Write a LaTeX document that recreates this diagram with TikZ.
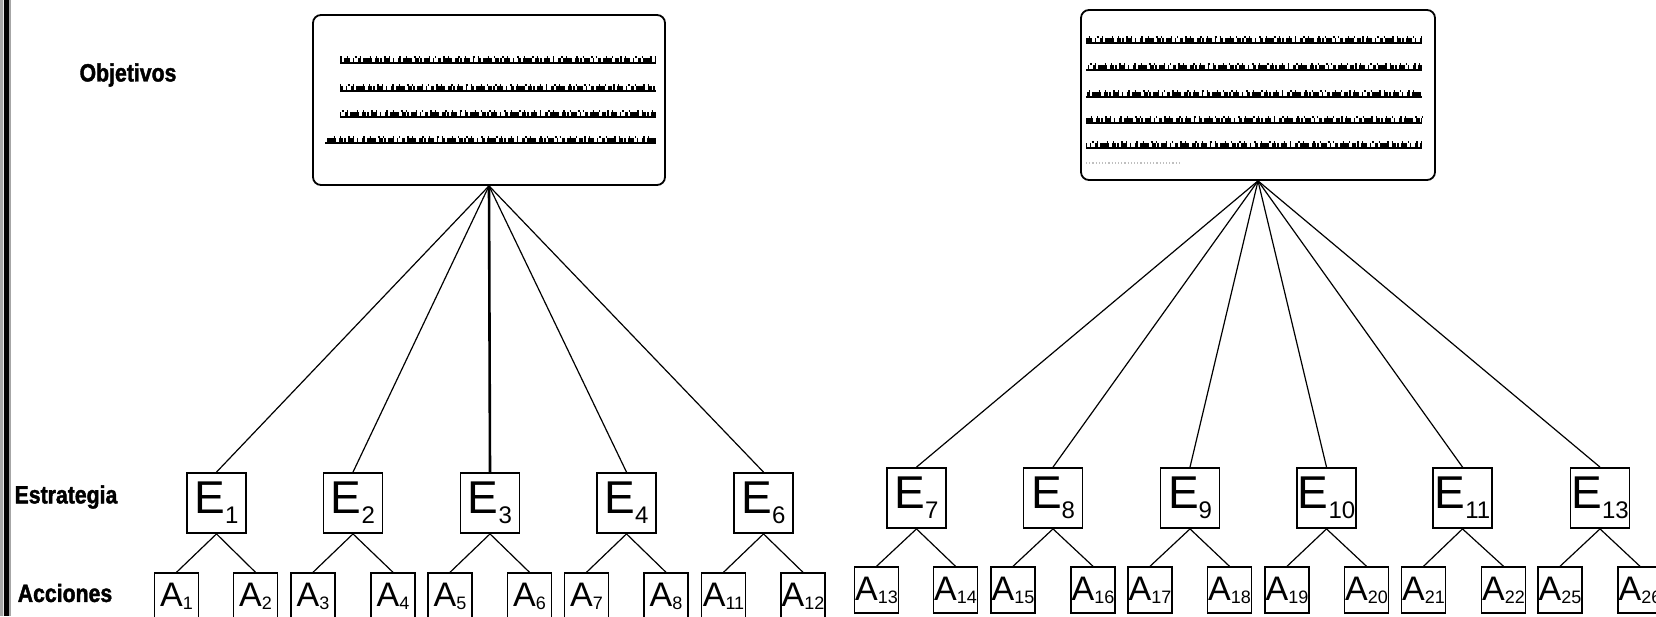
\documentclass[tikz,border=0pt]{standalone}
\usepackage{fontspec}
\setmainfont{Liberation Sans}
\newfontfamily\etiqfont[FakeStretch=0.85,FakeBold=1.6]{Liberation Sans}
\newcommand\esub[2]{{\fontsize{46}{46}\selectfont #1\raisebox{-10pt}{\fontsize{24}{24}\selectfont #2}}}
\newcommand\asub[2]{{\fontsize{34}{34}\selectfont #1\raisebox{-3pt}{\fontsize{18}{18}\selectfont #2}}}
\newcommand\renglon[4]{%
  \draw[scribble] (#1,#3) -- (#2,#3);
  \draw[scribtop, dash phase=#4pt] (#1,#3-3.5) -- (#2,#3-3.5);
  \draw[scribfine, dash phase=#4pt] (#1,#3-6) -- (#2,#3-6);}
\tikzset{
  estr/.style={draw, line width=1.8pt, minimum width=59pt, minimum height=60pt, inner sep=0pt},
  accion/.style={draw, line width=1.4pt, minimum width=44pt, minimum height=46pt, inner sep=0pt},
  objbox/.style={draw, line width=1.8pt, rounded corners=8pt, minimum height=170pt, inner sep=0pt},
  etiqueta/.style={font=\etiqfont\bfseries\fontsize{25}{25}\selectfont},
  rama/.style={line width=1.2pt},
  scribble/.style={line width=1.3pt},
  scribtop/.style={line width=4pt, dash pattern=on 2pt off 2pt on 6pt off 3pt on 1pt off 4pt on 3pt off 2pt on 9pt off 3pt on 4pt off 1pt},
  scribfine/.style={line width=2pt, dash pattern=on 1.5pt off 5pt on 1pt off 7pt on 2pt off 3pt on 1pt off 9pt},
}
\begin{document}
\begin{tikzpicture}[x=1pt, y=-1pt]
    \useasboundingbox (0,0) rectangle (1656,616);
    % left margin bar
    \fill[gray!70] (0,0) rectangle (11,616);
    \fill[gray!20] (2.7,0) rectangle (4,616);
    \fill[black] (4,0) rectangle (9.3,616);

    % row labels
    \node[etiqueta] (lobj) at (128,75) {Objetivos};
    \node[etiqueta] (lest) at (66,497) {Estrategia};
    \node[etiqueta] (lacc) at (65,593) {Acciones};

    % objectives
    \node[objbox, minimum width=352pt] (obj1) at (489,100) {};
    \node[objbox, minimum width=354pt] (obj2) at (1258,95) {};
    \renglon{340}{656}{63}{0}
    \renglon{340}{656}{91}{7}
    \renglon{340}{656}{117}{13}
    \renglon{325}{656}{143}{21}
    \renglon{1086}{1422}{43}{4}
    \renglon{1086}{1422}{70}{11}
    \renglon{1086}{1422}{97}{17}
    \renglon{1086}{1422}{123}{25}
    \renglon{1086}{1422}{148}{9}
    \draw[gray!50, dotted, line width=1.2pt] (1086,163) -- (1180,163);

    % strategies
    \node[estr] (e1) at (216.5,503) {\esub{E}{1}};
    \node[estr] (e2) at (353,503) {\esub{E}{2}};
    \node[estr] (e3) at (490,503) {\esub{E}{3}};
    \node[estr] (e4) at (626.5,503) {\esub{E}{4}};
    \node[estr] (e6) at (763.5,503) {\esub{E}{6}};
    \node[estr] (e7) at (916.5,498) {\esub{E}{7}};
    \node[estr] (e8) at (1053,498) {\esub{E}{8}};
    \node[estr] (e9) at (1190,498) {\esub{E}{9}};
    \node[estr] (e10) at (1326.5,498) {\esub{E}{10}};
    \node[estr] (e11) at (1462.5,498) {\esub{E}{11}};
    \node[estr] (e13) at (1600,498) {\esub{E}{13}};

    % actions
    \node[accion] (a1) at (176.5,596) {\asub{A}{1}};
    \node[accion] (a2) at (255.5,596) {\asub{A}{2}};
    \node[accion] (a3) at (313,596) {\asub{A}{3}};
    \node[accion] (a4) at (393,596) {\asub{A}{4}};
    \node[accion] (a5) at (450,596) {\asub{A}{5}};
    \node[accion] (a6) at (529.5,596) {\asub{A}{6}};
    \node[accion] (a7) at (586.5,596) {\asub{A}{7}};
    \node[accion] (a8) at (666,596) {\asub{A}{8}};
    \node[accion] (a11) at (723.5,596) {\asub{A}{11}};
    \node[accion] (a12) at (803,596) {\asub{A}{12}};
    \node[accion] (a13) at (876.5,590) {\asub{A}{13}};
    \node[accion] (a14) at (955.5,590) {\asub{A}{14}};
    \node[accion] (a15) at (1013,590) {\asub{A}{15}};
    \node[accion] (a16) at (1093,590) {\asub{A}{16}};
    \node[accion] (a17) at (1150,590) {\asub{A}{17}};
    \node[accion] (a18) at (1229.5,590) {\asub{A}{18}};
    \node[accion] (a19) at (1287,590) {\asub{A}{19}};
    \node[accion] (a20) at (1366.5,590) {\asub{A}{20}};
    \node[accion] (a21) at (1423.5,590) {\asub{A}{21}};
    \node[accion] (a22) at (1503.5,590) {\asub{A}{22}};
    \node[accion] (a25) at (1560,590) {\asub{A}{25}};
    \node[accion] (a26) at (1640,590) {\asub{A}{26}};

    % objectives to strategies
    \draw[rama] (obj1.south) -- (e1.north);
    \draw[rama] (obj1.south) -- (e2.north);
    \draw[line width=2.6pt] (obj1.south) -- (e3.north);
    \draw[rama] (obj1.south) -- (e4.north);
    \draw[rama] (obj1.south) -- (e6.north);
    \draw[rama] (obj2.south) -- (e7.north);
    \draw[rama] (obj2.south) -- (e8.north);
    \draw[rama] (obj2.south) -- (e9.north);
    \draw[rama] (obj2.south) -- (e10.north);
    \draw[rama] (obj2.south) -- (e11.north);
    \draw[rama] (obj2.south) -- (e13.north);

    % strategies to actions
    \draw[rama] (e1.south) -- (a1.north);
    \draw[rama] (e1.south) -- (a2.north);
    \draw[rama] (e2.south) -- (a3.north);
    \draw[rama] (e2.south) -- (a4.north);
    \draw[rama] (e3.south) -- (a5.north);
    \draw[rama] (e3.south) -- (a6.north);
    \draw[rama] (e4.south) -- (a7.north);
    \draw[rama] (e4.south) -- (a8.north);
    \draw[rama] (e6.south) -- (a11.north);
    \draw[rama] (e6.south) -- (a12.north);
    \draw[rama] (e7.south) -- (a13.north);
    \draw[rama] (e7.south) -- (a14.north);
    \draw[rama] (e8.south) -- (a15.north);
    \draw[rama] (e8.south) -- (a16.north);
    \draw[rama] (e9.south) -- (a17.north);
    \draw[rama] (e9.south) -- (a18.north);
    \draw[rama] (e10.south) -- (a19.north);
    \draw[rama] (e10.south) -- (a20.north);
    \draw[rama] (e11.south) -- (a21.north);
    \draw[rama] (e11.south) -- (a22.north);
    \draw[rama] (e13.south) -- (a25.north);
    \draw[rama] (e13.south) -- (a26.north);
\end{tikzpicture}
\end{document}
